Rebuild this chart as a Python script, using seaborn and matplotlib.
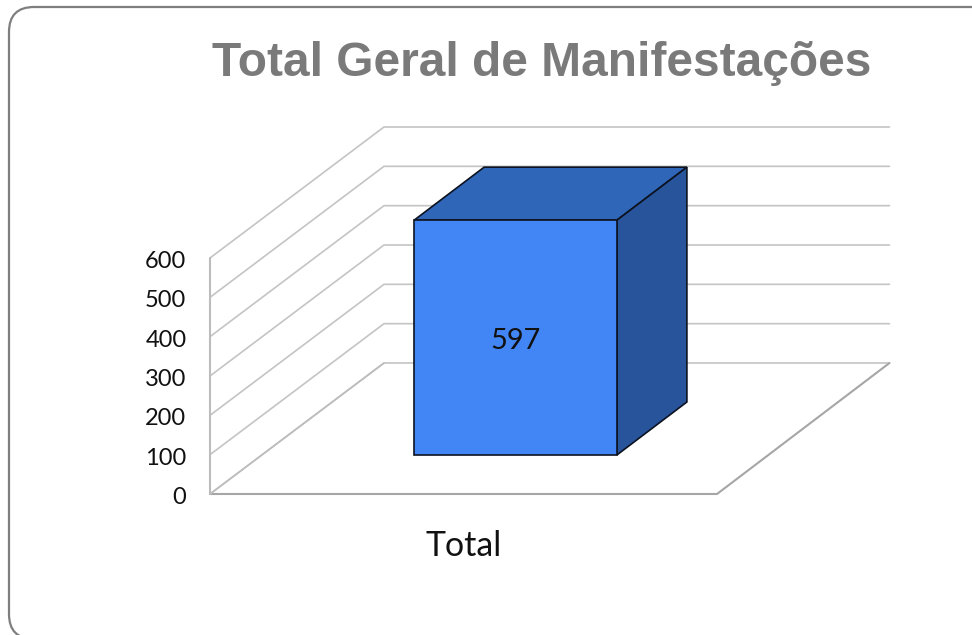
import matplotlib
matplotlib.use("Agg")
import matplotlib.pyplot as plt
from matplotlib.patches import FancyBboxPatch, Polygon
from matplotlib.transforms import Affine2D, ScaledTranslation
import pandas as pd
import seaborn as sns

categories = ["Total"]
values = [597]
y_ticks = [0, 100, 200, 300, 400, 500, 600]
title = "Total Geral de Manifestações"

W, H = 972, 635
sns.set_theme(style="white")
plt.rcParams["font.family"] = ["Lato", "DejaVu Sans"]

fig = plt.figure(figsize=(W / 100, H / 100), dpi=100, facecolor="white")

# rounded frame running off the right and bottom edges
bg = fig.add_axes([0, 0, 1, 1], zorder=0)
bg.set_xlim(0, W)
bg.set_ylim(H, 0)
bg.axis("off")
bg.add_patch(FancyBboxPatch((34, 32), 1000, 582, boxstyle="round,pad=25,rounding_size=25",
                            fc="white", ec="#7f7f7f", lw=1.6, clip_on=True))

ax = fig.add_axes([210 / W, (H - 494) / H, 507 / W, 236 / H], zorder=1)
ax.patch.set_alpha(0)

df = pd.DataFrame({"cat": categories, "val": values})
sns.barplot(data=df, x="cat", y="val", width=0.4, color="#4285f4", saturation=1,
            edgecolor="#0c1220", linewidth=1.2, ax=ax, zorder=5)
ax.set_xlim(-0.5, 0.5)
ax.set_ylim(0, 600)

# oblique depth, expressed in data units of the front plane
wall_dx, wall_dy = 174 / 507, 131 / 236 * 600
bar_off_x, bar_off_y = 52 / 507, 39 / 236 * 600
bar_dx, bar_dy = 70 / 507, 53 / 236 * 600

grid_c = "#c4c4c4"
for v in y_ticks:
    ax.plot([-0.5, -0.5 + wall_dx, 0.5 + wall_dx - 0.003], [v, v + wall_dy, v + wall_dy],
            color=grid_c, lw=1.2, clip_on=False, zorder=1)

floor_c = "#a6a6a6"
ax.plot([-0.5, 0.5, 0.5 + wall_dx - 0.003], [0, 0, wall_dy], color=floor_c, lw=1.5, clip_on=False, zorder=2)
ax.plot([-0.5, -0.5], [0, 600], color="#bcbcbc", lw=1.5, clip_on=False, zorder=2)
ax.plot([-0.5, -0.5 + wall_dx], [0, wall_dy], color="#bdbdbd", lw=1.2, clip_on=False, zorder=2)

# shift the seaborn bar off the front plane and add its top and side faces
bar = ax.patches[0]
x0, w, h = bar.get_x(), bar.get_width(), bar.get_height()
bar.set_transform(Affine2D().translate(bar_off_x, bar_off_y) + ax.transData)
bar.set_clip_on(False)
xl, xr = x0 + bar_off_x, x0 + w + bar_off_x
yb, yt = bar_off_y, h + bar_off_y
ax.add_patch(Polygon([(xl, yt), (xr, yt), (xr + bar_dx, yt + bar_dy), (xl + bar_dx, yt + bar_dy)],
                     closed=True, fc="#2f66b8", ec="#0c1220", lw=1.2, clip_on=False, zorder=4))
ax.add_patch(Polygon([(xr, yb), (xr + bar_dx, yb + bar_dy), (xr + bar_dx, yt + bar_dy), (xr, yt)],
                     closed=True, fc="#28549c", ec="#0c1220", lw=1.2, clip_on=False, zorder=4))

ax.annotate(str(values[0]), ((xl + xr) / 2, (yb + yt) / 2), xytext=(0, -3), textcoords="offset pixels",
            ha="center", va="center", fontsize=20.8, color="#111111", zorder=6)

sns.despine(ax=ax, left=True, bottom=True, top=True, right=True)
ax.set_xlabel("")
ax.set_ylabel("")
ax.set_yticks(y_ticks)
ax.set_yticklabels([str(v) for v in y_ticks], fontsize=17, color="#111111")
ax.set_xticks([0])
ax.set_xticklabels(categories, fontsize=24.4, color="#111111")
ax.tick_params(axis="y", length=0, pad=17)
ax.tick_params(axis="x", length=0, pad=26)
ax.grid(False)
for lab in ax.get_yticklabels():
    lab.set_transform(lab.get_transform() + Affine2D().translate(0, -1.5))

fig.text(542 / W, 1 - 64 / H, title, ha="center", va="center", fontsize=34.5, fontweight="bold",
         family=["Liberation Sans"], color="#7a7a7a")

fig.savefig("out.png", dpi=100)
